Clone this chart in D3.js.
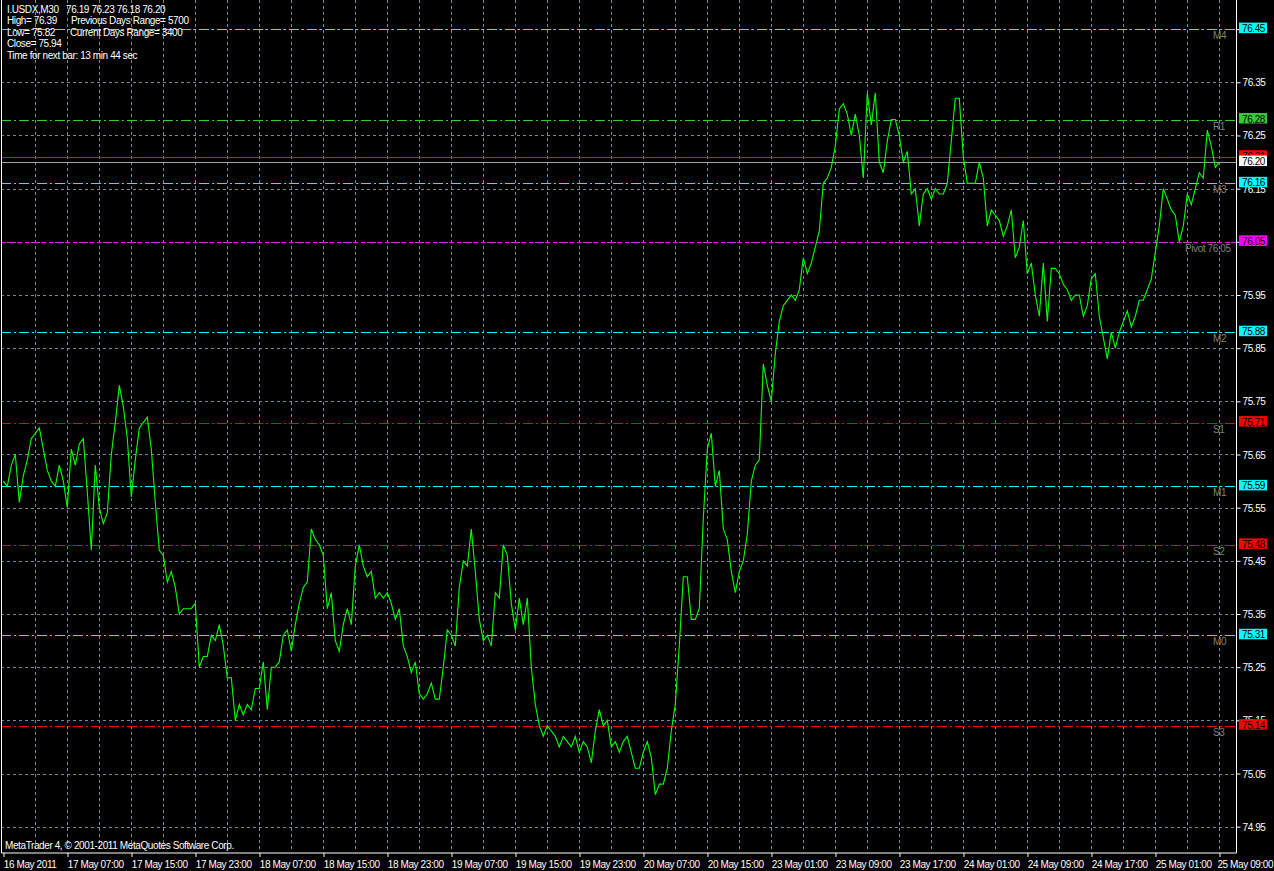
<!DOCTYPE html>
<html>
<head>
<meta charset="utf-8">
<script src="https://cdn.jsdelivr.net/npm/d3@7"></script>
<style>
  html, body { margin: 0; padding: 0; background: #000; }
  svg { display: block; }
  text { font-family: "Liberation Sans", Arial, sans-serif; font-size: 10px; letter-spacing: -0.4px; }
</style>
</head>
<body>
<svg id="chart" width="1274" height="871"></svg>
<script>
// ---------------- DATA ----------------
const symbol = "I.USDX,M30";
const lastBarOHLC = ["76.19", "76.23", "76.18", "76.20"];
const infoHigh = "76.39", infoLow = "75.82", infoClose = "75.94";
const prevDaysRange = "5700", curDaysRange = "3400";
const timeLeft = "13 min 44 sec";

// close price of each 30-minute bar
const closes = [
75.60, 75.59, 75.63, 75.65, 75.56, 75.61, 75.64, 75.68, 75.69, 75.70,
75.66, 75.62, 75.60, 75.59, 75.63, 75.60, 75.55, 75.66, 75.63, 75.67,
75.68, 75.58, 75.47, 75.63, 75.55, 75.52, 75.54, 75.65, 75.71, 75.78,
75.74, 75.68, 75.57, 75.64, 75.70, 75.71, 75.72, 75.66, 75.56, 75.47,
75.46, 75.41, 75.43, 75.40, 75.35, 75.36, 75.36, 75.36, 75.37, 75.25,
75.27, 75.27, 75.31, 75.30, 75.33, 75.29, 75.23, 75.23, 75.15, 75.18,
75.16, 75.18, 75.17, 75.21, 75.21, 75.26, 75.17, 75.25, 75.25, 75.26,
75.31, 75.32, 75.28, 75.33, 75.37, 75.40, 75.41, 75.51, 75.49, 75.48,
75.46, 75.36, 75.39, 75.30, 75.28, 75.33, 75.36, 75.33, 75.44, 75.48,
75.44, 75.42, 75.43, 75.38, 75.39, 75.38, 75.39, 75.37, 75.34, 75.36,
75.29, 75.27, 75.24, 75.26, 75.20, 75.19, 75.20, 75.22, 75.19, 75.19,
75.25, 75.32, 75.31, 75.29, 75.40, 75.45, 75.44, 75.51, 75.43, 75.34,
75.30, 75.31, 75.29, 75.39, 75.38, 75.48, 75.46, 75.37, 75.32, 75.38,
75.33, 75.38, 75.25, 75.18, 75.14, 75.12, 75.14, 75.13, 75.12, 75.10,
75.12, 75.11, 75.10, 75.12, 75.09, 75.11, 75.10, 75.07, 75.13, 75.17,
75.14, 75.15, 75.10, 75.11, 75.09, 75.11, 75.12, 75.09, 75.06, 75.06,
75.09, 75.11, 75.08, 75.01, 75.03, 75.03, 75.06, 75.13, 75.18, 75.29,
75.42, 75.42, 75.34, 75.34, 75.36, 75.53, 75.66, 75.69, 75.59, 75.62,
75.51, 75.49, 75.43, 75.39, 75.43, 75.45, 75.50, 75.60, 75.63, 75.64,
75.82, 75.78, 75.75, 75.84, 75.90, 75.93, 75.94, 75.95, 75.94, 75.96,
76.02, 75.99, 76.01, 76.04, 76.07, 76.16, 76.17, 76.19, 76.23, 76.30,
76.31, 76.29, 76.25, 76.29, 76.25, 76.17, 76.33, 76.27, 76.33, 76.20,
76.18, 76.24, 76.28, 76.28, 76.25, 76.20, 76.22, 76.14, 76.15, 76.08,
76.14, 76.15, 76.13, 76.15, 76.14, 76.14, 76.16, 76.24, 76.32, 76.32,
76.21, 76.16, 76.16, 76.16, 76.20, 76.17, 76.08, 76.11, 76.10, 76.09,
76.06, 76.08, 76.11, 76.02, 76.04, 76.09, 75.99, 76.01, 75.95, 75.91,
76.01, 75.90, 76.00, 76.00, 75.99, 75.97, 75.96, 75.94, 75.95, 75.95,
75.91, 75.93, 75.98, 75.99, 75.91, 75.87, 75.83, 75.88, 75.85, 75.88,
75.90, 75.92, 75.89, 75.91, 75.94, 75.94, 75.96, 75.98, 76.03, 76.08,
76.15, 76.13, 76.11, 76.10, 76.05, 76.08, 76.14, 76.12, 76.15, 76.18,
76.17, 76.26, 76.23, 76.19, 76.20
];

// time axis labels, one every 16 bars (8 hours)
const timeLabels = [
"16 May 2011", "17 May 07:00", "17 May 15:00", "17 May 23:00", "18 May 07:00",
"18 May 15:00", "18 May 23:00", "19 May 07:00", "19 May 15:00", "19 May 23:00",
"20 May 07:00", "20 May 15:00", "23 May 01:00", "23 May 09:00", "23 May 17:00",
"24 May 01:00", "24 May 09:00", "24 May 17:00", "25 May 01:00", "25 May 09:00"
];

// price axis ticks
const priceTicks = [74.95, 75.05, 75.15, 75.25, 75.35, 75.45, 75.55, 75.65,
                    75.75, 75.85, 75.95, 76.05, 76.15, 76.25, 76.35, 76.45];

// pivot levels
const levelNames  = ["M4", "R1", "M3", "Pivot 76.05", "M2", "S1", "M1", "S2", "M0", "S3"];
const levelValues = [76.45, 76.28, 76.16, 76.05, 75.88, 75.71, 75.59, 75.48, 75.31, 75.14];
const askPrice = 76.21;
const bidPrice = 76.20;

const copyright = "MetaTrader 4, \u00A9 2001-2011 MetaQuotes Software Corp.";

// ---------------- LAYOUT / STYLE ----------------
const W = 1274, H = 871;
const plotRight = 1236, plotBottom = 852.5, plotLeft = 1;
const gridColor = "#778899";
const levelStyle = name => {
  if (name.startsWith("Pivot")) return { color: "#ff00ff", dash: "5,3" };
  if (name.startsWith("R")) return { color: "#32cd32", dash: "10,3,2,3" };
  if (name.startsWith("S")) return { color: "#ff0000", dash: "10,3,2,3" };
  return { color: "#00ffff", dash: "10,3,2,3" };
};

const svg = d3.select("#chart");
svg.append("rect").attr("width", W).attr("height", H).attr("fill", "#000");

const x = d3.scaleLinear().domain([0, 304]).range([3.3, 1219.3]);
const y = d3.scaleLinear().domain([74.95, 76.35]).range([826.7, 82.3]);

svg.append("defs").append("clipPath").attr("id", "plotclip")
  .append("rect").attr("x", plotLeft).attr("y", 0)
  .attr("width", plotRight - plotLeft).attr("height", plotBottom);

const plot = svg.append("g").attr("clip-path", "url(#plotclip)");

// grid: vertical every 8 bars
const vIdx = d3.range(8, closes.length, 8);
plot.selectAll("line.vgrid").data(vIdx).enter().append("line")
  .attr("x1", d => Math.round(x(d)) + 0.5).attr("x2", d => Math.round(x(d)) + 0.5)
  .attr("y1", 0).attr("y2", plotBottom)
  .attr("stroke", gridColor).attr("stroke-width", 1).attr("stroke-dasharray", "3,3");

// grid: horizontal at price ticks
plot.selectAll("line.hgrid").data(priceTicks).enter().append("line")
  .attr("x1", plotLeft).attr("x2", plotRight)
  .attr("y1", d => Math.round(y(d)) + 0.5).attr("y2", d => Math.round(y(d)) + 0.5)
  .attr("stroke", gridColor).attr("stroke-width", 1).attr("stroke-dasharray", "3,3");

// pivot level lines
levelNames.forEach((name, i) => {
  const st = levelStyle(name);
  const yy = Math.round(y(levelValues[i])) + 0.5;
  plot.append("line")
    .attr("x1", plotLeft).attr("x2", plotRight).attr("y1", yy).attr("y2", yy)
    .attr("stroke", st.color).attr("stroke-width", 1).attr("stroke-dasharray", st.dash);
});

// ask (red) and bid (gray) lines
plot.append("line").attr("x1", plotLeft).attr("x2", plotRight)
  .attr("y1", Math.round(y(askPrice)) + 0.5).attr("y2", Math.round(y(askPrice)) + 0.5)
  .attr("stroke", "#ff0000").attr("stroke-width", 1);
plot.append("line").attr("x1", plotLeft).attr("x2", plotRight)
  .attr("y1", Math.round(y(bidPrice)) + 0.5).attr("y2", Math.round(y(bidPrice)) + 0.5)
  .attr("stroke", "#a0a0a0").attr("stroke-width", 1);

// level names
levelNames.forEach((name, i) => {
  plot.append("text")
    .attr("x", name.startsWith("Pivot") ? 1185 : 1213)
    .attr("y", y(levelValues[i]) + 10)
    .attr("fill", "#808080")
    .text(name);
});

// price line
const line = d3.line().x((d, i) => x(i)).y(d => y(d));
plot.append("path").datum(closes)
  .attr("d", line).attr("fill", "none")
  .attr("stroke", "#00ff00").attr("stroke-width", 1.1);

// header info
const info = svg.append("g").attr("fill", "#fff");
const hl = [12.8, 24.3, 35.8, 47.3, 58.8];
info.append("text").attr("x", 7).attr("y", hl[0]).text(symbol);
info.append("text").attr("x", 66).attr("y", hl[0]).text(lastBarOHLC.join(" "));
info.append("text").attr("x", 7).attr("y", hl[1]).text("High= " + infoHigh);
info.append("text").attr("x", 71).attr("y", hl[1]).text("Previous Days Range= " + prevDaysRange);
info.append("text").attr("x", 7).attr("y", hl[2]).text("Low= " + infoLow);
info.append("text").attr("x", 70).attr("y", hl[2]).text("Current Days Range= " + curDaysRange);
info.append("text").attr("x", 7).attr("y", hl[3]).text("Close= " + infoClose);
info.append("text").attr("x", 7).attr("y", hl[4]).text("Time for next bar: " + timeLeft);

svg.append("text").attr("x", 5).attr("y", 848.5).attr("fill", "#fff").text(copyright);

// border
svg.append("path")
  .attr("d", `M${plotLeft + 0.5},0 V${plotBottom + 0.5} H${plotRight + 0.5} V0`)
  .attr("fill", "none").attr("stroke", "#fff").attr("stroke-width", 1);

// right price axis
const yAxis = d3.axisRight(y).tickValues(priceTicks).tickSize(4).tickFormat(d3.format(".2f"));
const gy = svg.append("g").attr("transform", `translate(${plotRight + 0.5},0)`).call(yAxis);
gy.select(".domain").remove();
gy.selectAll(".tick line").attr("stroke", "#fff");
gy.selectAll(".tick text").attr("fill", "#fff").attr("x", 6).attr("dy", null).attr("y", 3.5)
  .style("font-family", "Liberation Sans, Arial, sans-serif").style("font-size", "10px");

// bottom time axis
const tickIdx = timeLabels.map((t, k) => k * 16);
const xAxis = d3.axisBottom(x).tickValues(tickIdx).tickSize(4).tickFormat((d, k) => timeLabels[k]);
const gx = svg.append("g").attr("transform", `translate(0,${plotBottom + 0.5})`).call(xAxis);
gx.select(".domain").remove();
gx.selectAll(".tick line").attr("stroke", "#fff").attr("transform", "translate(0.2,0)");
gx.selectAll(".tick text").attr("fill", "#fff").attr("text-anchor", "start")
  .attr("x", 0).attr("dy", null).attr("y", 14.5)
  .style("font-family", "Liberation Sans, Arial, sans-serif").style("font-size", "10px");
// keep the last label inside the picture
gx.selectAll(".tick text").each(function () {
  const bb = this.getBBox();
  const tx = x(tickIdx[timeLabels.indexOf(this.textContent)]);
  const over = tx + bb.x + bb.width - (W - 0.5);
  if (over > 0) d3.select(this).attr("x", -over);
});

// price label boxes
const boxes = levelNames.map((n, i) => ({ v: levelValues[i], fill: levelStyle(n).color }));
boxes.push({ v: askPrice, fill: "#ff0000" });
boxes.push({ v: bidPrice, fill: "#ffffff" });
const fmt = d3.format(".2f");
const gb = svg.append("g");
boxes.forEach(b => {
  const yy = y(b.v);
  gb.append("rect").attr("x", 1239).attr("y", yy - 6.5).attr("width", 28).attr("height", 10.5)
    .attr("fill", b.fill);
  gb.append("text").attr("x", 1242).attr("y", yy + 3).attr("fill", "#000").text(fmt(b.v));
});
</script>
</body>
</html>
